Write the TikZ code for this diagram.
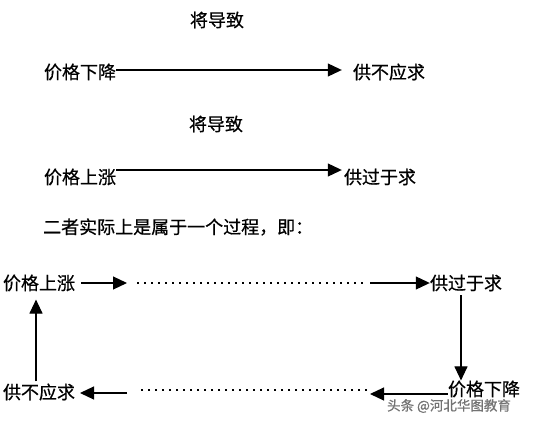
\documentclass[tikz,border=0pt]{standalone}
\usepackage{fontspec}
\newfontfamily\cjk[FakeBold=0.6]{Noto Sans CJK SC}
\usetikzlibrary{arrows.meta}
\tikzset{
    word/.style={inner sep=0pt, font=\cjk\fontsize{18}{21}\selectfont},
    link/.style={line width=1.1pt, -{Triangle[length=14pt,width=13pt]}},
    dots/.style={line width=2.4pt, dash pattern=on 2.4pt off 4.6pt}
}
\begin{document}
\begin{tikzpicture}[x=1pt, y=-1pt]
    \useasboundingbox (0,0) rectangle (552,423);
    \fill[white] (0,0) rectangle (552,423);
    % the two single steps
    \node[word] (lead1) at (217,20) {将导致};
    \node[word] (fall1) at (80,72) {价格下降};
    \node[word] (short1) at (389,72) {供不应求};
    \draw[link, shorten >=11pt] ([yshift=2pt]fall1.east) -- ([yshift=2pt]short1.west);
    \node[word] (lead2) at (216,124) {将导致};
    \node[word] (rise1) at (80,177) {价格上涨};
    \node[word] (glut1) at (380,177) {供过于求};
    \draw[link, shorten >=2pt] ([yshift=7pt]rise1.east) -- ([yshift=7pt]glut1.west);
    \node[word, anchor=west] (note) at (43,227) {二者实际上是属于一个过程，即：};
    % the loop
    \node[word] (rise2) at (39,283) {价格上涨};
    \node[word] (glut2) at (466,283) {供过于求};
    \node[word] (fall2) at (484,389) {价格下降};
    \node[word] (short2) at (39,392) {供不应求};
    \coordinate (a1) at (81,283);
    \coordinate (a2) at (127,283);
    \coordinate (d1) at (137,283);
    \coordinate (d2) at (365,283);
    \coordinate (a3) at (370,283);
    \coordinate (b1) at (370,394);
    \coordinate (e1) at (367,390);
    \coordinate (e2) at (140,390);
    \coordinate (b2) at (127,393);
    \coordinate (b3) at (80,393);
    \draw[link] (a1) -- (a2);
    \draw[dots] (d1) -- (d2);
    \draw[link] (a3) -- (glut2.west);
    \draw[link] ([xshift=-5pt,yshift=-4pt]glut2.south) -- ([xshift=-5pt]glut2.south |- fall2.north);
    \draw[link] ([yshift=-5pt]fall2.west) -- (b1);
    \draw[dots] (e1) -- (e2);
    \draw[link] (b2) -- (b3);
    \draw[link] ([yshift=2pt]short2.north -| 36,0) -- ([yshift=-8pt]rise2.south -| 36,0);
    % watermark
    \node[inner sep=0pt, text=black!55, font=\cjk\fontsize{13.5}{15}\selectfont] (mark) at (449,406) {头条 @河北华图教育};
\end{tikzpicture}
\end{document}
